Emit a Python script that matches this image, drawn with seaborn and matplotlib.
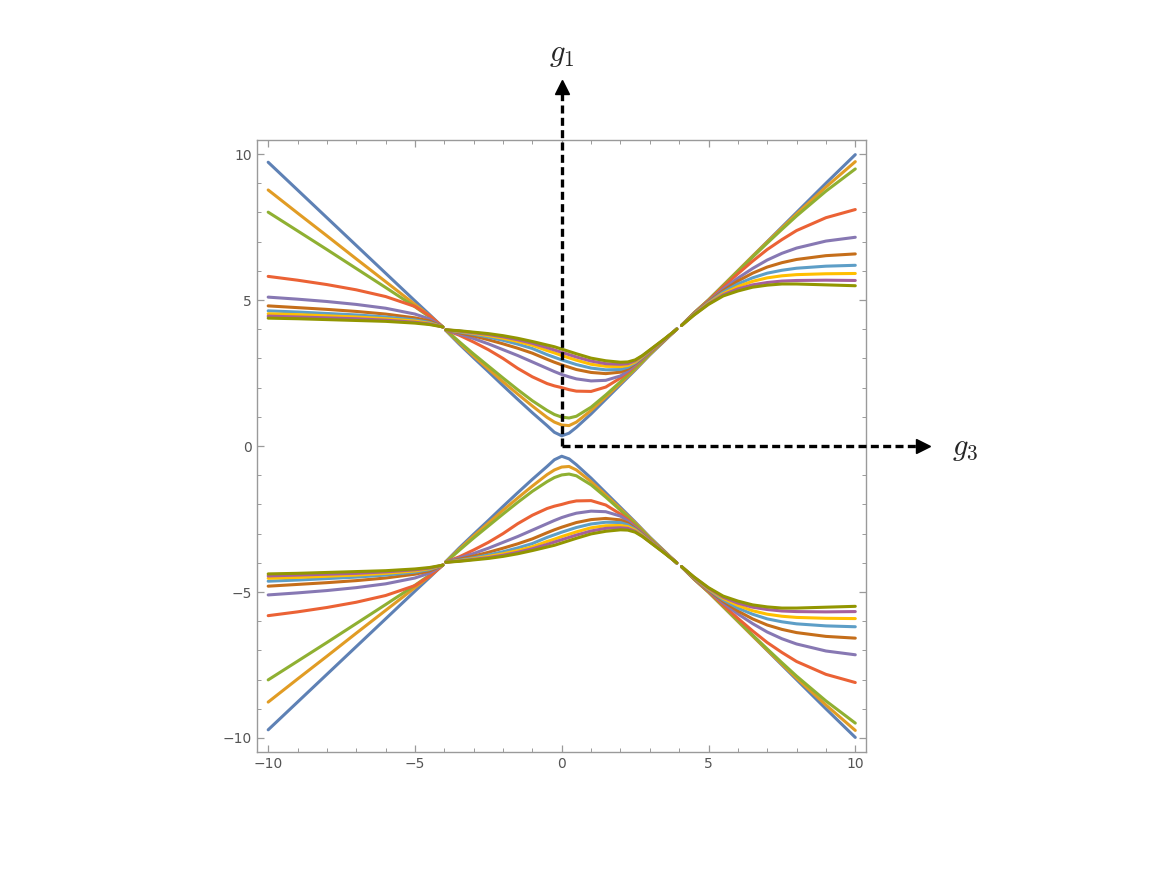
import matplotlib
matplotlib.use("Agg")
import matplotlib.pyplot as plt
from matplotlib.ticker import MultipleLocator
import pandas as pd
import seaborn as sns

sns.set_style("ticks")
plt.rcParams['mathtext.fontset'] = 'cm'

# g3 samples; the curves break around g3 = -4 and g3 = 4
x_left = [-10, -9, -8, -7, -6, -5, -4.5, -4.05]
x_mid = [-3.95, -3.5, -3, -2.5, -2, -1.5, -1, -0.5, -0.25, 0, 0.25, 0.5, 1, 1.5,
         2, 2.25, 2.5, 2.75, 3, 3.25, 3.5, 3.92]
x_right = [4.08, 4.5, 5, 5.5, 6, 6.5, 7, 7.5, 8, 9, 10]

# upper branch values (left | middle | right)
# the lower branch is the mirror image of the upper one
c1 = [9.72, 8.77, 7.82, 6.87, 5.92, 4.97, 4.5, 4.07,
      3.96, 3.5, 3.02, 2.55, 2.07, 1.6, 1.14, 0.7, 0.47, 0.35, 0.44, 0.64, 1.1, 1.6,
      2.1, 2.35, 2.6, 2.86, 3.12, 3.36, 3.6, 4.02,
      4.13, 4.55, 5.0, 5.5, 6.0, 6.5, 7.0, 7.5, 8.0, 9.0, 9.98]
c2 = [8.77, 7.98, 7.2, 6.41, 5.63, 4.85, 4.46, 4.07,
      3.97, 3.54, 3.08, 2.64, 2.2, 1.78, 1.37, 0.98, 0.82, 0.72, 0.7, 0.82, 1.22, 1.68,
      2.15, 2.39, 2.63, 2.88, 3.14, 3.38, 3.61, 4.01,
      4.13, 4.55, 5.0, 5.5, 6.0, 6.5, 6.99, 7.47, 7.95, 8.87, 9.74]
c3 = [8.01, 7.37, 6.73, 6.08, 5.43, 4.77, 4.42, 4.08,
      3.98, 3.58, 3.15, 2.74, 2.33, 1.93, 1.55, 1.22, 1.08, 0.99, 0.96, 1.02, 1.33, 1.75,
      2.2, 2.43, 2.67, 2.91, 3.16, 3.4, 3.62, 4.01,
      4.13, 4.55, 5.0, 5.49, 5.98, 6.47, 6.95, 7.42, 7.88, 8.73, 9.49]
c4 = [5.81, 5.68, 5.53, 5.35, 5.12, 4.78, 4.46, 4.08,
      3.97, 3.8, 3.56, 3.3, 3.0, 2.66, 2.37, 2.14, 2.06, 2.0, 1.93, 1.88, 1.87, 2.02,
      2.33, 2.52, 2.75, 2.98, 3.21, 3.42, 3.63, 4.0,
      4.13, 4.54, 4.98, 5.45, 5.9, 6.33, 6.73, 7.07, 7.38, 7.82, 8.1]
c5 = [5.1, 5.03, 4.95, 4.85, 4.72, 4.52, 4.35, 4.08,
      3.97, 3.84, 3.68, 3.5, 3.3, 3.1, 2.88, 2.66, 2.55, 2.45, 2.37, 2.3, 2.23, 2.25,
      2.4, 2.57, 2.78, 3.0, 3.23, 3.43, 3.64, 4.0,
      4.13, 4.53, 4.95, 5.38, 5.75, 6.08, 6.37, 6.6, 6.78, 7.02, 7.15]
c6 = [4.8, 4.74, 4.68, 4.61, 4.52, 4.39, 4.28, 4.08,
      3.98, 3.88, 3.77, 3.64, 3.5, 3.35, 3.18, 2.97, 2.87, 2.78, 2.7, 2.62, 2.52, 2.48,
      2.53, 2.64, 2.82, 3.03, 3.25, 3.44, 3.65, 4.0,
      4.13, 4.52, 4.93, 5.32, 5.65, 5.92, 6.13, 6.28, 6.39, 6.52, 6.58]
c7 = [4.63, 4.59, 4.54, 4.49, 4.42, 4.32, 4.23, 4.08,
      3.98, 3.91, 3.83, 3.73, 3.62, 3.49, 3.34, 3.13, 3.04, 2.95, 2.87, 2.79, 2.67, 2.61,
      2.62, 2.7, 2.85, 3.05, 3.26, 3.45, 3.65, 4.0,
      4.13, 4.51, 4.91, 5.27, 5.55, 5.76, 5.92, 6.02, 6.09, 6.16, 6.19]
c8 = [4.53, 4.5, 4.46, 4.42, 4.36, 4.28, 4.2, 4.08,
      3.98, 3.93, 3.86, 3.78, 3.69, 3.58, 3.45, 3.27, 3.19, 3.1, 3.02, 2.94, 2.8, 2.73,
      2.72, 2.76, 2.88, 3.07, 3.27, 3.46, 3.66, 4.0,
      4.13, 4.5, 4.89, 5.22, 5.46, 5.64, 5.76, 5.83, 5.87, 5.9, 5.91]
c9 = [4.45, 4.42, 4.39, 4.36, 4.31, 4.24, 4.18, 4.08,
      3.98, 3.94, 3.88, 3.82, 3.74, 3.64, 3.52, 3.37, 3.29, 3.21, 3.13, 3.05, 2.91, 2.82,
      2.8, 2.82, 2.92, 3.09, 3.28, 3.47, 3.66, 4.0,
      4.13, 4.49, 4.87, 5.18, 5.38, 5.52, 5.6, 5.65, 5.67, 5.68, 5.67]
c10 = [4.38, 4.36, 4.33, 4.3, 4.27, 4.21, 4.16, 4.08,
       3.98, 3.95, 3.9, 3.85, 3.78, 3.69, 3.58, 3.46, 3.4, 3.32, 3.24, 3.16, 3.01, 2.92,
       2.87, 2.88, 2.95, 3.1, 3.29, 3.48, 3.67, 4.0,
       4.13, 4.48, 4.85, 5.14, 5.31, 5.44, 5.51, 5.55, 5.55, 5.52, 5.49]

curves = [c1, c2, c3, c4, c5, c6, c7, c8, c9, c10]
names = ['c%d' % (i + 1) for i in range(len(curves))]
colors = ['#5E81B5', '#E19C24', '#8FB032', '#EB6235', '#8778B3',
          '#C56E1A', '#5D9EC7', '#FFBF00', '#A5609D', '#929600']

x_all = x_left + x_mid + x_right
seg_all = [0] * len(x_left) + [1] * len(x_mid) + [2] * len(x_right)
rows = []
for name, vals in zip(names, curves):
    for sign in (1, -1):
        for xv, yv, s in zip(x_all, vals, seg_all):
            rows.append((xv, sign * yv, name, '%d_%d' % (sign, s)))
df = pd.DataFrame(rows, columns=['g3', 'E', 'curve', 'seg'])

fig = plt.figure(figsize=(11.63, 8.72), dpi=100)
ax = fig.add_axes([0.221, 0.1376, 0.524, 0.7018])

sns.lineplot(data=df, x='g3', y='E', hue='curve', units='seg', estimator=None,
             sort=False, palette=colors, lw=2.2, legend=False, ax=ax)

ax.set_xlim(-10.38, 10.38)
ax.set_ylim(-10.48, 10.48)
ax.set_xticks([-10, -5, 0, 5, 10])
ax.set_yticks([-10, -5, 0, 5, 10])
ax.xaxis.set_minor_locator(MultipleLocator(1))
ax.yaxis.set_minor_locator(MultipleLocator(1))
ax.tick_params(which='both', direction='in', top=True, right=True,
               color='#9a9a9a', labelcolor='#555555', labelsize=10)
ax.tick_params(which='major', length=5, width=0.9)
ax.tick_params(which='minor', length=3, width=0.7)
for sp in ax.spines.values():
    sp.set_color('#9a9a9a')
    sp.set_linewidth(1)
ax.set_xlabel('')
ax.set_ylabel('')

# axes arrows g1 (up) and g3 (right)
dash = (0, (2.4, 1.3))
ax.plot([0, 0], [0, 12.1], ls=dash, lw=2.4, color='black', clip_on=False, zorder=5)
ax.plot([0], [12.3], marker='^', ms=10, color='black', clip_on=False, zorder=5)
ax.plot([0, 12.1], [0, 0], ls=dash, lw=2.4, color='black', clip_on=False, zorder=5)
ax.plot([12.3], [0], marker='>', ms=10, color='black', clip_on=False, zorder=5)
ax.text(0, 13.4, r'$g_1$', fontsize=22, ha='center', va='center', clip_on=False)
ax.text(13.75, -0.1, r'$g_3$', fontsize=22, ha='center', va='center', clip_on=False)

fig.savefig('out.png', dpi=100)
